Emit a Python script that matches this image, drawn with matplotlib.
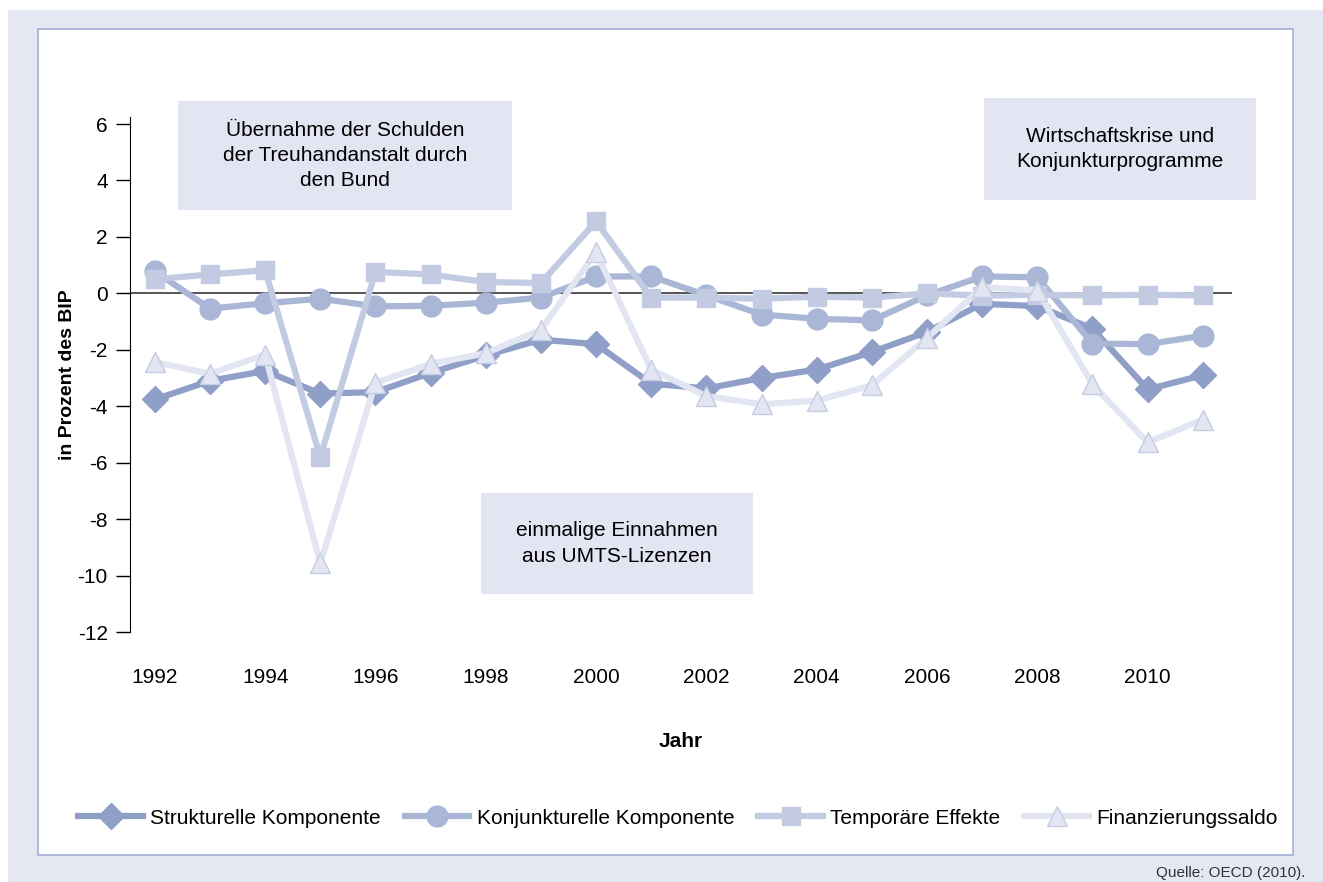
import matplotlib
matplotlib.use("Agg")
from matplotlib import pyplot as plt
from matplotlib.patches import Rectangle

plt.rcParams['font.family'] = ['Liberation Sans', 'DejaVu Sans']
plt.rcParams['axes.unicode_minus'] = False

##### data (Prozent des BIP)
years = list(range(1992, 2012))
strukturell = [-3.76, -3.1, -2.75, -3.55, -3.5, -2.82, -2.2, -1.64, -1.8, -3.2,
               -3.37, -3.0, -2.7, -2.08, -1.37, -0.37, -0.45, -1.25, -3.4, -2.9]
konjunkturell = [0.78, -0.54, -0.35, -0.19, -0.46, -0.44, -0.33, -0.15, 0.6, 0.6,
                 -0.07, -0.75, -0.9, -0.96, -0.07, 0.6, 0.57, -1.78, -1.8, -1.5]
temporaer = [0.5, 0.67, 0.82, -5.8, 0.76, 0.67, 0.4, 0.37, 2.55, -0.15,
             -0.15, -0.19, -0.12, -0.15, 0.0, -0.08, -0.05, -0.07, -0.05, -0.07]
saldo = [-2.43, -2.85, -2.17, -9.57, -3.17, -2.5, -2.12, -1.29, 1.46, -2.7,
         -3.64, -3.93, -3.8, -3.26, -1.58, 0.22, 0.1, -3.22, -5.28, -4.47]

xticks = list(range(1992, 2011, 2))
yticks = list(range(-12, 7, 2))

##### colours
c_str = '#8f9fc8'
c_kon = '#a9b6d6'
c_tmp = '#c2cbe2'
c_sal = '#e2e6f2'
c_bg = '#e5e7f2'

fig = plt.figure(figsize=(13.23, 8.82), dpi=100)
fig.patch.set_facecolor('white')

# outer lavender frame + white panel
fig.add_artist(Rectangle((8 / 1323, 0), 1 - 8 / 1323, 1 - 10 / 882, transform=fig.transFigure,
                         facecolor=c_bg, edgecolor='none', zorder=-10))
fig.add_artist(Rectangle((38 / 1323, 1 - 855 / 882), (1293 - 38) / 1323, (855 - 29) / 882,
                         transform=fig.transFigure, facecolor='white', edgecolor='#a3b0d6',
                         linewidth=1.2, zorder=-9))

ax = fig.add_axes([130 / 1323, 1 - 632 / 882, (1232 - 130) / 1323, (632 - 117) / 882])
ax.set_facecolor('none')

ax.axhline(0, color='#555555', linewidth=1.4, zorder=1)

ax.plot(years, strukturell, color=c_str, lw=4.5, marker='D', ms=13,
        mec=c_str, mfc=c_str, label='Strukturelle Komponente', zorder=3)
ax.plot(years, konjunkturell, color=c_kon, lw=4.5, marker='o', ms=15,
        mec=c_kon, mfc=c_kon, label='Konjunkturelle Komponente', zorder=4)
ax.plot(years, temporaer, color=c_tmp, lw=4.5, marker='s', ms=13,
        mec=c_tmp, mfc=c_tmp, label='Temporäre Effekte', zorder=5)
ax.plot(years, saldo, color=c_sal, lw=4.5, marker='^', ms=15,
        mec='#c6cde3', mfc='#e3e6f2', mew=1, label='Finanzierungssaldo', zorder=6)

ax.set_xlim(1991.55, 2011.53)
ax.set_ylim(-12, 6.25)
ax.set_yticks(yticks)
ax.set_xticks(xticks)
ax.tick_params(axis='y', direction='out', length=10, width=1, labelsize=15, pad=6)
ax.tick_params(axis='x', length=0, labelsize=15, pad=26)
for s in ['top', 'right', 'bottom']:
    ax.spines[s].set_visible(False)
ax.spines['left'].set_bounds(-12, 6.25)

ax.set_xlabel('Jahr', fontsize=15, fontweight='bold', labelpad=32)
ax.set_ylabel('in Prozent des BIP', fontsize=14, fontweight='bold', labelpad=1)

# annotation boxes (pixel coords of reference)
def box(x0, y0, x1, y1, text):
    fig.add_artist(Rectangle((x0 / 1323, 1 - y1 / 882), (x1 - x0) / 1323, (y1 - y0) / 882,
                             transform=fig.transFigure, facecolor='#e3e6f2',
                             edgecolor='none', zorder=2))
    fig.text((x0 + x1) / 2 / 1323, 1 - (y0 + y1) / 2 / 882, text, ha='center', va='center',
             fontsize=15, linespacing=1.4, zorder=3)

box(178, 101, 512, 210, 'Übernahme der Schulden\nder Treuhandanstalt durch\nden Bund')
box(984, 98, 1256, 200, 'Wirtschaftskrise und\nKonjunkturprogramme')
box(481, 493, 753, 594, 'einmalige Einnahmen\naus UMTS-Lizenzen')

fig.legend(loc='center', bbox_to_anchor=(678 / 1323, 1 - 818 / 882), ncol=4, frameon=False,
           fontsize=15, handlelength=3.1, columnspacing=1.15, handletextpad=0.35)

fig.text(1305 / 1323, 1 - 873 / 882, 'Quelle: OECD (2010).', ha='right', va='center',
         fontsize=11, color='#333333')

plt.savefig('out.png', dpi=100)
